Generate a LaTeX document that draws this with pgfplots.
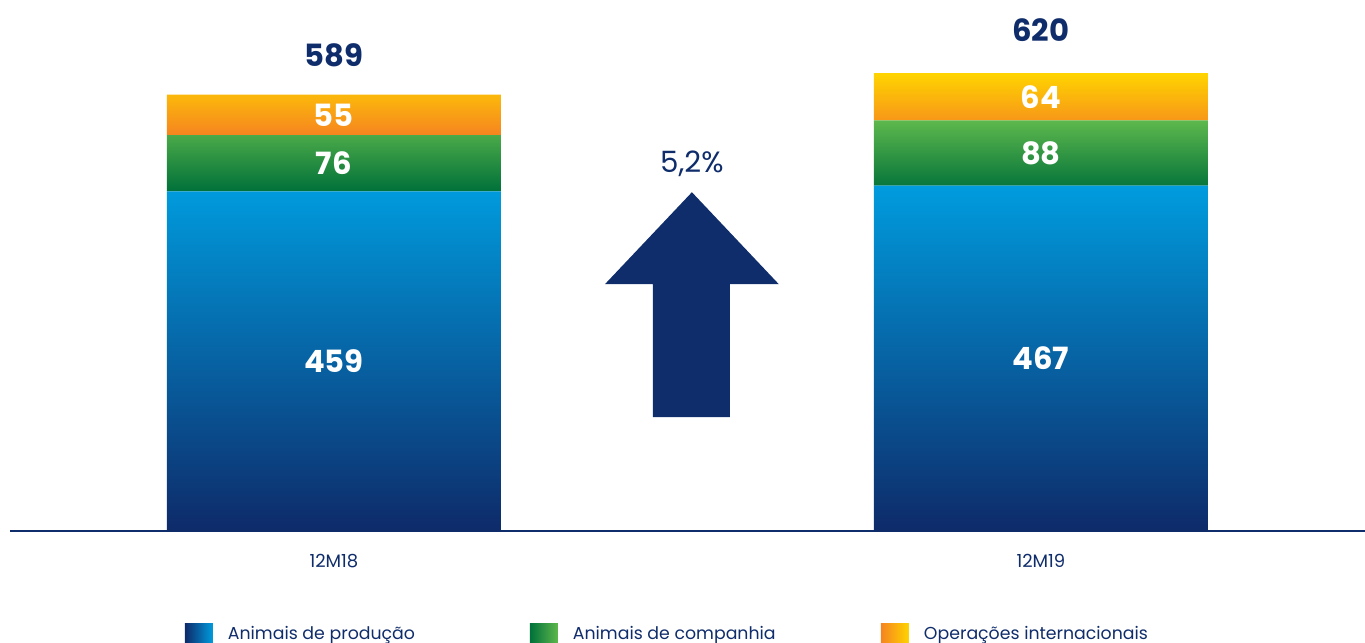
\documentclass[border=0pt]{standalone}
\usepackage{fontspec}
\setmainfont{Poppins}
\usepackage{pgfplots}
\pgfplotsset{compat=1.18}
\definecolor{navy}{HTML}{102D6B}
\definecolor{blueT}{HTML}{009CDE}
\definecolor{blueB}{HTML}{0E2A69}
\definecolor{greenT}{HTML}{5DB84C}
\definecolor{greenM}{HTML}{00963F}
\definecolor{greenB}{HTML}{00713A}
\definecolor{oranT}{HTML}{FFD400}
\definecolor{oranB}{HTML}{F58420}
\begin{document}
\begin{tikzpicture}[x=0.75pt,y=0.75pt]
\useasboundingbox (0,0) rectangle (1365,643);
\clip (0,0) rectangle (1365,643);
\begin{axis}[
  at={(14,151)}, anchor=south west,
  scale only axis, width=1016.25pt, height=396.75pt,
  xmin=-0.4583, xmax=1.4583, ymin=0, ymax=714.7,
  axis y line=none,
  axis x line*=bottom,
  x axis line style={-, draw=navy, line width=1.5pt},
  xtick={0,1}, xticklabels={12M18,12M19},
  major tick length=0pt,
  xticklabel style={font=\fontsize{13.5}{16}\selectfont, text=navy, yshift=-14pt},
  ytick=\empty,
  ybar stacked, bar width=0.4724,
  point meta=explicit symbolic,
  nodes near coords,
  every node near coord/.append style={font=\fontsize{23}{26}\selectfont\bfseries, text=white, anchor=center},
  legend columns=3,
  legend style={draw=none, fill=none, at={(axis description cs:0.1292,-0.174)}, anchor=north west,
    inner sep=0pt, outer sep=0pt, column sep=0pt,
    nodes={inner sep=0pt, outer sep=0pt, text=navy, font=\fontsize{13}{15}\selectfont},
    /tikz/every odd column/.style={column sep=11.25pt}},
]
\addplot[draw=none, top color=blueT, bottom color=blueB,
  legend image code/.code={\path[left color=blueB, right color=blueT] (0pt,-10.5pt) rectangle (21pt,10.5pt);}]
  coordinates {(0,459)[459] (1,467)[467]};
\addlegendentry{\raisebox{4.5pt}{\makebox[226.5pt][l]{Animais de produção}}}
\addplot[draw=none, top color=greenT, middle color=greenM, bottom color=greenB,
  legend image code/.code={\path[left color=greenB, right color=greenT] (0pt,-10.5pt) rectangle (21pt,10.5pt);}]
  coordinates {(0,76)[76] (1,88)[88]};
\addlegendentry{\raisebox{4.5pt}{\makebox[231pt][l]{Animais de companhia}}}
\addplot[draw=none, top color=oranT, bottom color=oranB,
  legend image code/.code={\path[left color=oranB, right color=oranT] (0pt,-10.5pt) rectangle (21pt,10.5pt);}]
  coordinates {(0,55)[55] (1,64)[64]};
\addlegendentry{\raisebox{4.5pt}{Operações internacionais}}
\node[text=navy, font=\fontsize{23}{26}\selectfont\bfseries, yshift=30pt] at (axis cs:0,589) {589};
\node[text=navy, font=\fontsize{23}{26}\selectfont\bfseries, yshift=32pt] at (axis cs:1,620) {620};
\fill[navy] (axis cs:0.4512,154.0) -- (axis cs:0.4512,333.7) -- (axis cs:0.3833,333.7)
  -- (axis cs:0.5064,458.0) -- (axis cs:0.6294,333.7) -- (axis cs:0.5601,333.7)
  -- (axis cs:0.5601,154.0) -- cycle;
\node[text=navy, font=\fontsize{22}{24}\selectfont] at (axis cs:0.5064,495.8) {5,2\%};
\end{axis}
\end{tikzpicture}
\end{document}
